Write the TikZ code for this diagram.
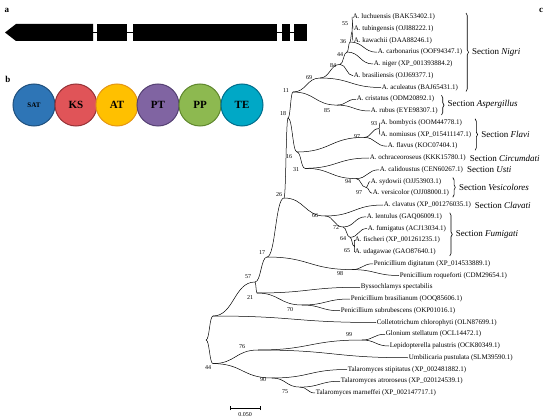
\documentclass[tikz,border=0pt]{standalone}
\usepackage{fontspec}
\setmainfont{Liberation Serif}
\usepackage{tikz}
\usetikzlibrary{
  calc,
  decorations.pathreplacing
}
\definecolor{satblue}{RGB}{46,117,182}
\definecolor{satline}{RGB}{32,80,125}
\definecolor{ksred}{RGB}{224,84,88}
\definecolor{ksline}{RGB}{150,50,55}
\definecolor{atgold}{RGB}{255,192,0}
\definecolor{atline}{RGB}{228,150,20}
\definecolor{ptpurple}{RGB}{128,100,162}
\definecolor{ptline}{RGB}{85,65,115}
\definecolor{ppgreen}{RGB}{141,185,80}
\definecolor{ppline}{RGB}{95,135,45}
\definecolor{teteal}{RGB}{0,168,198}
\definecolor{teline}{RGB}{0,110,140}
% curved branch from parent to child
\newcommand{\br}[2]{\draw[branch] (#1) .. controls ($(#1)!0.5!(#1 -| #2)$) and ($(#2)!0.5!(#2 -| #1)$) .. (#2);}

\begin{document}
\begin{tikzpicture}[x=1pt, y=-1pt,
  branch/.style={line width=0.5pt},
  leaf/.style={anchor=west, inner sep=0.6pt, font=\fontsize{7}{8}\selectfont},
  boot/.style={inner sep=0pt, font=\fontsize{6}{7}\selectfont},
  sect/.style={anchor=west, inner sep=0pt, font=\fontsize{9}{10}\selectfont},
  clade/.style={decorate, decoration={brace, amplitude=2.5pt}, line width=0.6pt},
  pksdomain/.style={circle, draw, line width=1pt, minimum size=42pt, inner sep=0pt,
                 font=\bfseries\fontsize{11}{12}\selectfont},
  panel/.style={inner sep=0pt, font=\bfseries\fontsize{9}{10}\selectfont}
]
  \useasboundingbox (0,0) rectangle (550,420);

  % Panel a: gene
  \node[panel] (pa) at (7,10) {a};
  \fill (5,32.5) -- (16,24) -- (93,24) -- (93,41) -- (16,41) -- cycle;
  \draw[line width=1pt] (93,32.5) -- (97,32.5);
  \fill (97,24) rectangle (127,41);
  \draw[line width=1pt] (127,32.5) -- (133,32.5);
  \fill (133,24) rectangle (277,41);
  \draw[line width=1pt] (277,32.5) -- (282,32.5);
  \fill (282,24) rectangle (290,41);
  \draw[line width=1pt] (290,32.5) -- (294,32.5);
  \fill (294,24) rectangle (307,41);

  % Panel b: domains
  \node[panel] (pb) at (8,79) {b};
  \node[pksdomain, fill=satblue, draw=satline, font=\bfseries\fontsize{7}{8}\selectfont] (sat) at (34,105) {SAT};
  \node[pksdomain, fill=ksred, draw=ksline] (ks) at (76,105) {KS};
  \node[pksdomain, fill=atgold, draw=atline] (at) at (117,105) {AT};
  \node[pksdomain, fill=ptpurple, draw=ptline] (pt) at (158,105) {PT};
  \node[pksdomain, fill=ppgreen, draw=ppline] (pp) at (200,105) {PP};
  \node[pksdomain, fill=teteal, draw=teline] (te) at (242,105) {TE};

  % Panel c: tree
  \node[panel] (pc) at (541,10) {c};

  % Leaves
  \node[leaf] (luch) at (352,17) {A. luchuensis (BAK53402.1)};
  \node[leaf] (tub) at (353,28.75) {A. tubingensis (OJI88222.1)};
  \node[leaf] (kaw) at (353,40.5) {A. kawachii (DAA88246.1)};
  \node[leaf] (carb) at (377,52.25) {A. carbonarius (OOF94347.1)};
  \node[leaf] (nig) at (373,64) {A. niger (XP\_001393884.2)};
  \node[leaf] (bras) at (353,75.75) {A. brasiliensis (OJJ69377.1)};
  \node[leaf] (acul) at (381,87.5) {A. aculeatus (BAJ65431.1)};
  \node[leaf] (crist) at (356,99.25) {A. cristatus (ODM20892.1)};
  \node[leaf] (rub) at (370,111) {A. rubus (EYE98307.1)};
  \node[leaf] (bomb) at (380,122.75) {A. bombycis (OOM44778.1)};
  \node[leaf] (nom) at (380,134.5) {A. nomiusus (XP\_015411147.1)};
  \node[leaf] (flav) at (387,146.25) {A. flavus (KOC07404.1)};
  \node[leaf] (ochr) at (369,158) {A. ochraceoroseus (KKK15780.1)};
  \node[leaf] (calid) at (379,169.75) {A. calidoustus (CEN60267.1)};
  \node[leaf] (syd) at (370,181.5) {A. sydowii (OJJ53903.1)};
  \node[leaf] (vers) at (372,193.25) {A. versicolor (OJJ08000.1)};
  \node[leaf] (clav) at (383,205) {A. clavatus (XP\_001276035.1)};
  \node[leaf] (lent) at (366,216.75) {A. lentulus (GAQ06009.1)};
  \node[leaf] (fumi) at (367,228.5) {A. fumigatus (ACJ13034.1)};
  \node[leaf] (fisch) at (354,240.25) {A. fischeri (XP\_001261235.1)};
  \node[leaf] (udag) at (354,252) {A. udagawae (GAO87640.1)};
  \node[leaf] (digit) at (373,263.75) {Penicillium digitatum (XP\_014533889.1)};
  \node[leaf] (roq) at (399,275.5) {Penicillium roqueforti (CDM29654.1)};
  \node[leaf] (byss) at (360,287.25) {Byssochlamys spectabilis};
  \node[leaf] (pbras) at (350,299) {Penicillium brasilianum (OOQ85606.1)};
  \node[leaf] (psub) at (340,310.75) {Penicillium subrubescens (OKP01016.1)};
  \node[leaf] (coll) at (376,322.5) {Colletotrichum chlorophyti (OLN87699.1)};
  \node[leaf] (glon) at (385,334.25) {Glonium stellatum (OCL14472.1)};
  \node[leaf] (lepi) at (389,346) {Lepidopterella palustris (OCK80349.1)};
  \node[leaf] (umbi) at (408,357.75) {Umbilicaria pustulata (SLM39590.1)};
  \node[leaf] (tstip) at (347,369.5) {Talaromyces stipitatus (XP\_002481882.1)};
  \node[leaf] (tatro) at (340,381.25) {Talaromyces atroroseus (XP\_020124539.1)};
  \node[leaf] (tmarn) at (315,393) {Talaromyces marneffei (XP\_002147717.1)};

  % Internal nodes
  \coordinate (root) at (206,340);
  \coordinate (nC) at (213,316);
  \coordinate (n44b) at (213,363.6);
  \coordinate (n57) at (255,282);
  \coordinate (n21) at (257,293);
  \coordinate (n70) at (302,305);
  \coordinate (n17) at (267,257);
  \coordinate (n98) at (352,269.6);
  \coordinate (n26) at (284,198);
  \coordinate (n66) at (325,216);
  \coordinate (n72) at (343,227);
  \coordinate (n64) at (350,237.3);
  \coordinate (n65) at (354,246.1);
  \coordinate (n18) at (288,118);
  \coordinate (n11) at (293,92);
  \coordinate (n69) at (320,78);
  \coordinate (n84) at (340,64.4);
  \coordinate (nX) at (347,52);
  \coordinate (n44) at (350,42);
  \coordinate (n36) at (352,31.7);
  \coordinate (n55) at (352.5,22.9);
  \coordinate (n85) at (337,105.1);
  \coordinate (n16) at (297,152);
  \coordinate (n97F) at (364,137.4);
  \coordinate (n93) at (379,128.6);
  \coordinate (n31) at (305,168.3);
  \coordinate (n94) at (356,178.6);
  \coordinate (n97V) at (366,187.4);
  \coordinate (n76) at (258,350);
  \coordinate (n99) at (362,340);
  \coordinate (n90) at (272,378);
  \coordinate (n75) at (300,387.1);

  % Branches
  \br{root}{nC} \br{root}{n44b}
  \br{nC}{n57} \br{nC}{coll.west}
  \br{n57}{n17} \br{n57}{n21}
  \br{n21}{byss.west} \br{n21}{n70}
  \br{n70}{pbras.west} \br{n70}{psub.west}
  \br{n17}{n26} \br{n17}{n98}
  \br{n98}{digit.west} \br{n98}{roq.west}
  \br{n26}{n18} \br{n26}{n66}
  \br{n66}{clav.west} \br{n66}{n72}
  \br{n72}{lent.west} \br{n72}{n64}
  \br{n64}{fumi.west} \br{n64}{n65}
  \br{n65}{fisch.west} \br{n65}{udag.west}
  \br{n18}{n11} \br{n18}{n16}
  \br{n11}{n69} \br{n11}{n85}
  \br{n69}{n84} \br{n69}{acul.west}
  \br{n84}{nX} \br{n84}{bras.west}
  \br{nX}{n44} \br{nX}{nig.west}
  \br{n44}{n36} \br{n44}{carb.west}
  \br{n36}{n55} \br{n36}{kaw.west}
  \br{n55}{luch.west} \br{n55}{tub.west}
  \br{n85}{crist.west} \br{n85}{rub.west}
  \br{n16}{n97F} \br{n16}{n31}
  \br{n97F}{n93} \br{n97F}{flav.west}
  \br{n93}{bomb.west} \br{n93}{nom.west}
  \br{n31}{ochr.west} \br{n31}{n94}
  \br{n94}{calid.west} \br{n94}{n97V}
  \br{n97V}{syd.west} \br{n97V}{vers.west}
  \br{n44b}{n76} \br{n44b}{n90}
  \br{n76}{n99} \br{n76}{umbi.west}
  \br{n99}{glon.west} \br{n99}{lepi.west}
  \br{n90}{tstip.west} \br{n90}{n75}
  \br{n75}{tatro.west} \br{n75}{tmarn.west}

  % Bootstrap values
  \node[boot] (b55) at (345,24) {55};
  \node[boot] (b36) at (343,42) {36};
  \node[boot] (b44) at (340,55) {44};
  \node[boot] (b84) at (333,66) {84};
  \node[boot] (b69) at (309,78) {69};
  \node[boot] (b11) at (286,91) {11};
  \node[boot] (b85) at (327,111) {85};
  \node[boot] (b18) at (283,114) {18};
  \node[boot] (b93) at (374,124) {93};
  \node[boot] (b97f) at (357,137) {97};
  \node[boot] (b16) at (289,157) {16};
  \node[boot] (b31) at (296,170) {31};
  \node[boot] (b94) at (348,182) {94};
  \node[boot] (b97v) at (359,193) {97};
  \node[boot] (b26) at (279,195) {26};
  \node[boot] (b66) at (315,216) {66};
  \node[boot] (b72) at (336,228) {72};
  \node[boot] (b64) at (343,239) {64};
  \node[boot] (b65) at (347,251) {65};
  \node[boot] (b17) at (262,253) {17};
  \node[boot] (b98) at (340,274) {98};
  \node[boot] (b57) at (248,277) {57};
  \node[boot] (b21) at (250,298) {21};
  \node[boot] (b70) at (290,310) {70};
  \node[boot] (b99) at (349,335) {99};
  \node[boot] (b76) at (242,347) {76};
  \node[boot] (b44b) at (208,368) {44};
  \node[boot] (b90) at (263,380) {90};
  \node[boot] (b75) at (285,392) {75};

  % Sections
  \coordinate (nigtop) at ([xshift=3pt]carb.east |- luch.north);
  \coordinate (nigbot) at ([xshift=3pt]carb.east |- acul.south);
  \draw[clade] (nigtop) -- (nigbot);
  \node[sect] (snig) at ($(nigtop)!0.5!(nigbot)+(6,0)$) {Section \textit{Nigri}};
  \coordinate (asptop) at ([xshift=3pt]rub.east |- crist.north);
  \coordinate (aspbot) at ([xshift=3pt]rub.east |- rub.south);
  \draw[clade] (asptop) -- (aspbot);
  \node[sect] (sasp) at ($(asptop)!0.5!(aspbot)+(6,-1)$) {Section \textit{Aspergillus}};
  \coordinate (flatop) at ([xshift=3pt]nom.east |- bomb.north);
  \coordinate (flabot) at ([xshift=3pt]nom.east |- flav.south);
  \draw[clade] (flatop) -- (flabot);
  \node[sect] (sfla) at ($(flatop)!0.5!(flabot)+(6,0)$) {Section \textit{Flavi}};
  \node[sect] (scir) at ([xshift=3pt]ochr.east) {Section \textit{Circumdati}};
  \node[sect] (sust) at ([xshift=3pt]calid.east) {Section \textit{Usti}};
  \coordinate (vestop) at ([xshift=3pt]vers.east |- syd.north);
  \coordinate (vesbot) at ([xshift=3pt]vers.east |- vers.south);
  \draw[clade] (vestop) -- (vesbot);
  \node[sect] (sves) at ($(vestop)!0.5!(vesbot)+(6,0)$) {Section \textit{Vesicolores}};
  \node[sect] (scla) at ([xshift=3pt]clav.east) {Section \textit{Clavati}};
  \coordinate (fumtop) at ([xshift=3pt]fumi.east |- lent.north);
  \coordinate (fumbot) at ([xshift=3pt]fumi.east |- udag.south);
  \draw[clade] (fumtop) -- (fumbot);
  \node[sect] (sfum) at ($(fumtop)!0.5!(fumbot)+(6,0)$) {Section \textit{Fumigati}};

  % Scale bar
  \coordinate (sbl) at (230,408);
  \coordinate (sbr) at (260,408);
  \draw[line width=0.5pt] (sbl) -- (sbr);
  \draw[line width=0.5pt] ([yshift=-2pt]sbl) -- ([yshift=2pt]sbl);
  \draw[line width=0.5pt] ([yshift=-2pt]sbr) -- ([yshift=2pt]sbr);
  \node[boot] (sblab) at (245,415) {0.050};
\end{tikzpicture}
\end{document}
